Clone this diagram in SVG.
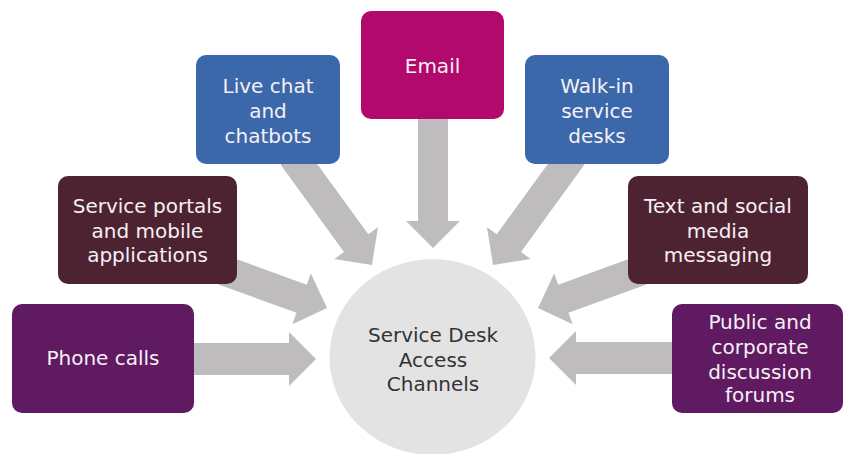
<svg xmlns="http://www.w3.org/2000/svg" width="843" height="454" viewBox="0 0 843 454">
  <defs>
    <style>
      .box text { font-family: "DejaVu Sans", "Liberation Sans", sans-serif; font-size: 20px; fill: #F7F0F5; text-anchor: middle; }
      .hub text { font-family: "DejaVu Sans", "Liberation Sans", sans-serif; font-size: 20px; fill: #333333; text-anchor: middle; }
      .arrow { fill: #BEBCBC; }
      .magenta { fill: #B1096C; }
      .blue { fill: #3B68AB; }
      .maroon { fill: #4E2331; }
      .purple { fill: #5F1A61; }
    </style>
  </defs>
  <rect width="843" height="454" fill="#FFFFFF"/>

  <g id="hub" class="hub">
    <ellipse cx="432.5" cy="357" rx="103" ry="98" fill="#E3E3E3"/>
    <text x="433" y="342">Service Desk</text>
    <text x="433" y="367">Access</text>
    <text x="433" y="391">Channels</text>
  </g>

  <g id="connectors">
    <path class="arrow" transform="translate(433,248) rotate(90)" d="M -135 -15 L -27 -15 L -27 -27 L 0 0 L -27 27 L -27 15 L -135 15 Z"/>
    <path class="arrow" transform="translate(372,265) rotate(54)" d="M -135 -15 L -27 -15 L -27 -27 L 0 0 L -27 27 L -27 15 L -135 15 Z"/>
    <path class="arrow" transform="translate(493,265) rotate(126)" d="M -135 -15 L -27 -15 L -27 -27 L 0 0 L -27 27 L -27 15 L -135 15 Z"/>
    <path class="arrow" transform="translate(327,308) rotate(20)" d="M -110 -15 L -27 -15 L -27 -27 L 0 0 L -27 27 L -27 15 L -110 15 Z"/>
    <path class="arrow" transform="translate(538,308) rotate(160)" d="M -110 -15 L -27 -15 L -27 -27 L 0 0 L -27 27 L -27 15 L -110 15 Z"/>
    <path class="arrow" transform="translate(316,359)" d="M -130 -16 L -27 -16 L -27 -27 L 0 0 L -27 27 L -27 16 L -130 16 Z"/>
    <path class="arrow" transform="translate(549,358) rotate(180)" d="M -130 -16 L -27 -16 L -27 -27 L 0 0 L -27 27 L -27 16 L -130 16 Z"/>
  </g>

  <g id="email" class="box">
    <rect class="magenta" x="361" y="11" width="143" height="108" rx="10"/>
    <text x="432.5" y="73">Email</text>
  </g>

  <g id="live-chat" class="box">
    <rect class="blue" x="196" y="55" width="144" height="109" rx="10"/>
    <text x="268" y="93">Live chat</text>
    <text x="268" y="118">and</text>
    <text x="268" y="143">chatbots</text>
  </g>

  <g id="walk-in" class="box">
    <rect class="blue" x="525" y="55" width="144" height="109" rx="10"/>
    <text x="597" y="93">Walk-in</text>
    <text x="597" y="118">service</text>
    <text x="597" y="143">desks</text>
  </g>

  <g id="service-portals" class="box">
    <rect class="maroon" x="58" y="176" width="179" height="108" rx="10"/>
    <text x="147.5" y="213">Service portals</text>
    <text x="147.5" y="238">and mobile</text>
    <text x="147.5" y="262">applications</text>
  </g>

  <g id="text-social" class="box">
    <rect class="maroon" x="628" y="176" width="180" height="108" rx="10"/>
    <text x="718" y="213">Text and social</text>
    <text x="718" y="238">media</text>
    <text x="718" y="262">messaging</text>
  </g>

  <g id="phone-calls" class="box">
    <rect class="purple" x="12" y="304" width="182" height="109" rx="10"/>
    <text x="103" y="365">Phone calls</text>
  </g>

  <g id="public-forums" class="box">
    <rect class="purple" x="672" y="304" width="171" height="109" rx="10"/>
    <text x="760" y="329">Public and</text>
    <text x="760" y="354">corporate</text>
    <text x="760" y="379">discussion</text>
    <text x="760" y="402">forums</text>
  </g>
</svg>
